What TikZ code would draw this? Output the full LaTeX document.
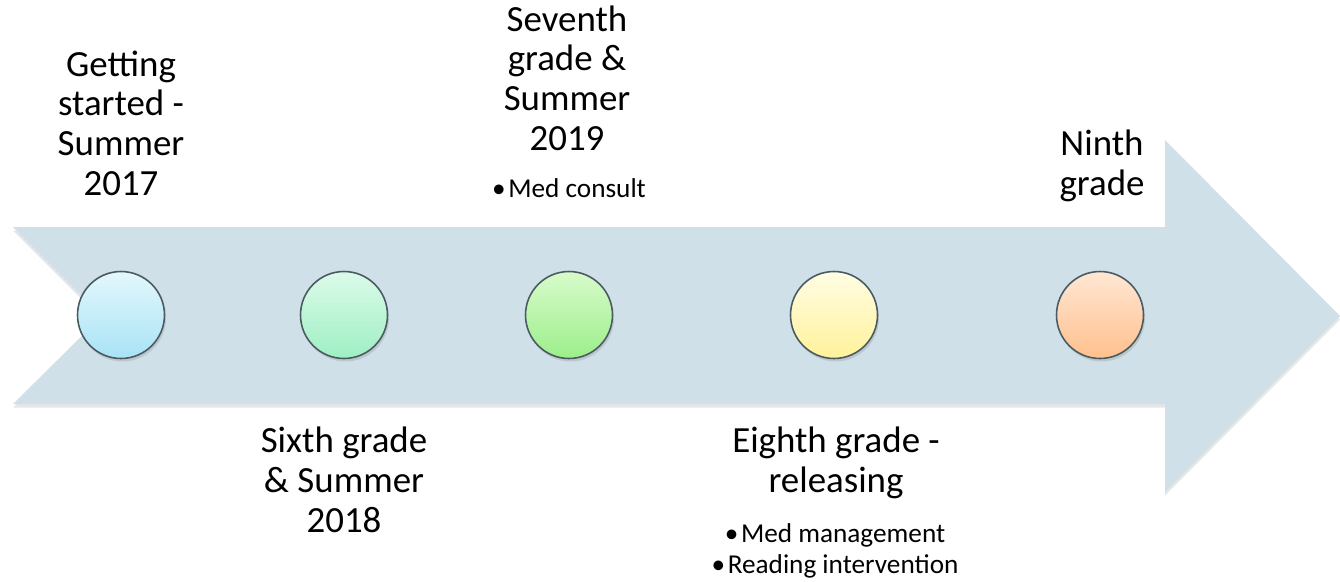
\documentclass[tikz,border=0pt]{standalone}
\usepackage{xcolor}
\usepackage{fontspec}
\setmainfont{Carlito}
\usepackage{tikz}
\usetikzlibrary{positioning, shapes, calc, shadows}

\definecolor{arrowfill}{HTML}{CFE0E8}
\definecolor{rimgray}{HTML}{4A5A61}
\definecolor{blueTop}{HTML}{E4F7FD}
\definecolor{blueBot}{HTML}{A8E3F5}
\definecolor{mintTop}{HTML}{DCFBEA}
\definecolor{mintBot}{HTML}{9EEFC3}
\definecolor{greenTop}{HTML}{D8FBCB}
\definecolor{greenBot}{HTML}{9CEE8A}
\definecolor{yellowTop}{HTML}{FFFDE4}
\definecolor{yellowBot}{HTML}{FFF29A}
\definecolor{orangeTop}{HTML}{FFE7D4}
\definecolor{orangeBot}{HTML}{FFC08E}

\newcommand{\bul}{•\kern1.5pt}

\begin{document}
\begin{tikzpicture}[x=0.02cm, y=-0.02cm,
	stage/.style={circle, draw=rimgray, line width=0.9pt, minimum size=1.74cm, inner sep=0pt,
		drop shadow={opacity=0.25, shadow xshift=0.03cm, shadow yshift=-0.06cm}},
	head/.style={align=center, inner sep=0pt, font=\fontsize{21}{22.5}\selectfont},
	note/.style={align=center, inner sep=0pt, font=\fontsize{15.5}{17.6}\selectfont}]
	
	\useasboundingbox (0,0) rectangle (1340,582);
	
	%//the big arrow, notch at the left
	\fill[arrowfill, drop shadow={opacity=0.2, shadow xshift=0cm, shadow yshift=-0.07cm}]
	(13,227) -- (1165,227) -- (1165,140) -- (1340,316) -- (1165,492) -- (1165,404)
	-- (13,404) -- (102,316) -- cycle;
	
	\def\ymid{315}
	
	\foreach \x/\ct/\cb/\n in {121/blueTop/blueBot/s1, 344/mintTop/mintBot/s2,
		569/greenTop/greenBot/s3, 834/yellowTop/yellowBot/s4, 1100/orangeTop/orangeBot/s5}
	\node[stage, top color=\ct, bottom color=\cb] (\n) at (\x,\ymid) {};
	
	%//labels above (base = last line)
	\node[head, anchor=base] (start) at (121,195) {Getting\\started -\\Summer\\2017};
	\node[head, anchor=base] (seventh) at (567,150) {Seventh\\grade \&\\Summer\\2019};
	\node[note, anchor=base] (consult) at (569,197) {\bul Med consult};
	\node[head, anchor=base] (ninth) at (1102,195) {Ninth\\grade};
	
	%//labels below
	\node[head, anchor=base] (sixth) at (344,532) {Sixth grade\\\& Summer\\2018};
	\node[head, anchor=base] (eighth) at (836,492) {Eighth grade -\\releasing};
	\node[note, anchor=base] (manage) at (835,573) {\bul Med management\\\bul Reading intervention};
	
\end{tikzpicture}
\end{document}
